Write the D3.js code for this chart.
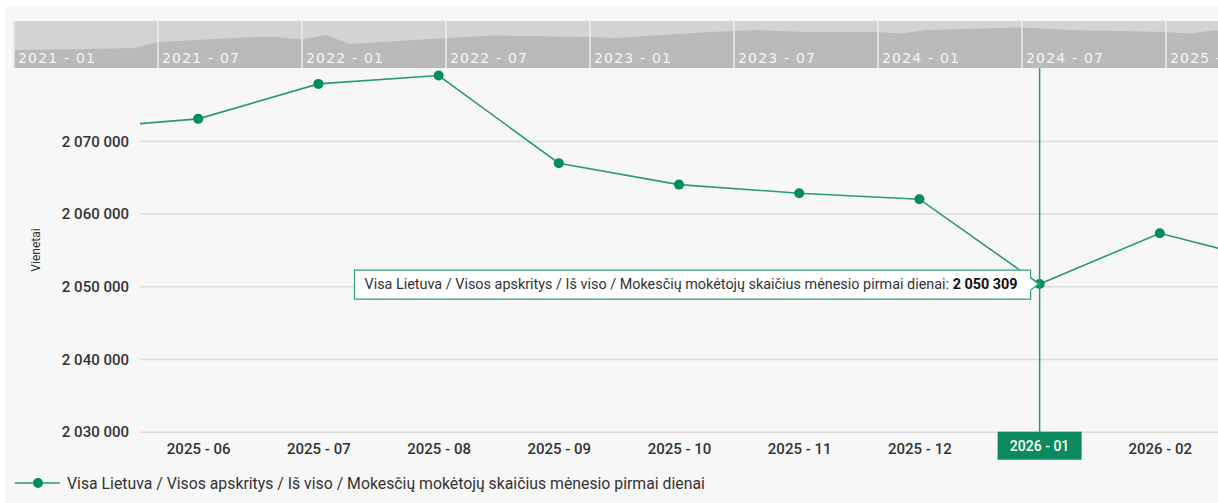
<!DOCTYPE html>
<html>
<head>
<meta charset="utf-8">
<script src="https://cdn.jsdelivr.net/npm/d3@7/dist/d3.min.js"></script>
<style>
  html, body { margin: 0; padding: 0; background: #ffffff; }
  svg { display: block; font-family: Roboto, "Noto Sans", sans-serif; }
</style>
</head>
<body>
<svg id="chart" width="1218" height="503"></svg>
<script>
// Monthly number of taxpayers on the first day of the month
const months = ["2025 - 05", "2025 - 06", "2025 - 07", "2025 - 08", "2025 - 09", "2025 - 10",
                "2025 - 11", "2025 - 12", "2026 - 01", "2026 - 02", "2026 - 03"];
const values = [2071690, 2073030, 2077840, 2078990, 2066930, 2063990,
                2062800, 2061980, 2050309, 2057300, 2053050];
const yTicks = [2030000, 2040000, 2050000, 2060000, 2070000];
const seriesName = "Visa Lietuva / Visos apskritys / Iš viso / Mokesčių mokėtojų skaičius mėnesio pirmai dienai";
const yTitle = "Vienetai";
const activeMonth = "2026 - 01";

// Overview strip (full history)
const navMonths = ["2021-01", "2021-04", "2021-06", "2021-07", "2021-11", "2021-12", "2022-01", "2022-02",
                   "2022-03", "2022-07", "2022-09", "2023-01", "2023-02", "2023-06", "2023-08", "2023-10",
                   "2024-01", "2024-02", "2024-03", "2024-07", "2024-09", "2025-01", "2025-02", "2025-03", "2025-04"];
const navValues = [1941900, 1947000, 1952100, 1982800, 2008300, 2008300, 1995500, 2018500,
                   1972600, 2003200, 2016000, 2008300, 2003200, 2033800, 2044000, 2033800,
                   2033800, 2026200, 2044000, 2056800, 2044000, 2033800, 2026200, 2041500, 2044000];
const navTickLabels = ["2021 - 01", "2021 - 07", "2022 - 01", "2022 - 07", "2023 - 01",
                       "2023 - 07", "2024 - 01", "2024 - 07", "2025 - 01"];

const GREEN = "#008c5e";
const LINE = "#2a9a70";

const svg = d3.select("#chart");
const W = 1218, H = 503;

const lt = d3.formatLocale({ decimal: ",", thousands: " ", grouping: [3], currency: ["", " €"] });
const fmt = lt.format(",d");

// page background
svg.append("rect").attr("x", 5).attr("y", 7).attr("width", W - 5).attr("height", H - 7).attr("fill", "#f7f7f7");

// ---------- main plot ----------
const plot = { left: 140, right: W, top: 68.2, bottom: 431.7 };

const x = d3.scalePoint().domain(months).range([78, 1280]).padding(0);
const y = d3.scaleLinear().domain([2030000, 2080000]).range([plot.bottom, plot.top]);

const defs = svg.append("defs");
defs.append("clipPath").attr("id", "plotClip")
  .append("rect").attr("x", plot.left).attr("y", plot.top - 8)
  .attr("width", plot.right - plot.left).attr("height", plot.bottom - plot.top + 16);

// grid + y labels
const yAxis = d3.axisLeft(y).tickValues(yTicks).tickFormat(fmt).tickSize(0).tickPadding(0);
const gy = svg.append("g").attr("transform", `translate(${plot.left},0)`).call(yAxis);
gy.attr("font-family", null).attr("font-size", null);
gy.select(".domain").remove();
gy.selectAll(".tick line").remove();
gy.selectAll(".tick").append("line")
  .attr("x1", 0).attr("x2", plot.right - plot.left)
  .attr("stroke", "#dcdcdc").attr("stroke-width", 1.5);
gy.selectAll(".tick text")
  .attr("x", -11).attr("dy", "0.35em")
  .attr("fill", "#333").style("font-size", "15px").style("font-weight", 500);

// y axis title
svg.append("text")
  .attr("transform", "translate(40,250) rotate(-90)")
  .attr("text-anchor", "middle").style("font-size", "12px").attr("fill", "#333")
  .text(yTitle);

// x labels (the highlighted month is shown in the crosshair label instead)
const xAxis = d3.axisBottom(x).tickValues(months.slice(1, 10).filter(m => m !== activeMonth))
  .tickSize(0).tickPadding(0);
const gx = svg.append("g").attr("transform", `translate(0,${plot.bottom})`).call(xAxis);
gx.attr("font-family", null).attr("font-size", null);
gx.select(".domain").remove();
gx.selectAll(".tick text")
  .attr("y", 22).attr("dy", 0)
  .attr("fill", "#333").style("font-size", "15px").style("font-weight", 500);

// series line + markers
const data = months.map((m, i) => ({ m, v: values[i] }));
const g = svg.append("g").attr("clip-path", "url(#plotClip)");
g.append("path").datum(data)
  .attr("fill", "none").attr("stroke", LINE).attr("stroke-width", 1.6)
  .attr("d", d3.line().x(d => x(d.m)).y(d => y(d.v)));

// crosshair for the highlighted month
const ax = x(activeMonth);
const active = data.find(d => d.m === activeMonth);
svg.append("line")
  .attr("x1", ax).attr("x2", ax).attr("y1", plot.top).attr("y2", plot.bottom)
  .attr("stroke", "#2a9a6e").attr("stroke-width", 1.5);

g.selectAll("circle").data(data).join("circle")
  .attr("cx", d => x(d.m)).attr("cy", d => y(d.v)).attr("r", 5)
  .attr("fill", GREEN);

// crosshair label on the x axis
const lab = svg.append("g");
lab.append("rect").attr("x", ax - 42).attr("y", plot.bottom).attr("width", 84).attr("height", 28)
  .attr("fill", "#0a8a5e");
lab.append("text").attr("x", ax).attr("y", plot.bottom + 19).attr("text-anchor", "middle")
  .attr("fill", "#ffffff").style("font-size", "14px").style("font-weight", 500)
  .text(activeMonth);

// tooltip
const tipY = y(active.v);
const tip = svg.append("g");
const tipPath = tip.append("path").attr("fill", "#ffffff").attr("stroke", "#35a077").attr("stroke-width", 1.2);
const tipText = tip.append("text").style("font-size", "14.4px").attr("fill", "#333")
  .attr("y", tipY + 5);
tipText.append("tspan").text(seriesName + ": ");
tipText.append("tspan").style("font-weight", 700).attr("fill", "#111").text(fmt(active.v));
const tipRight = ax - 9;
const textEnd = tipRight - 13;
const tw = tipText.node().getComputedTextLength();
tipText.attr("x", textEnd - tw);
const tipLeft = textEnd - tw - 10;
const tipTop = tipY - 14, tipBot = tipY + 15;
tipPath.attr("d", `M${tipLeft},${tipTop} H${tipRight} V${tipY - 6} L${ax - 1},${tipY} L${tipRight},${tipY + 6} V${tipBot} H${tipLeft} Z`);

// legend
const leg = svg.append("g").attr("transform", "translate(0,483)");
leg.append("line").attr("x1", 15).attr("x2", 60).attr("stroke", LINE).attr("stroke-width", 1.6);
leg.append("circle").attr("cx", 38).attr("r", 5).attr("fill", GREEN);
leg.append("text").attr("x", 67).attr("y", 5.5).style("font-size", "15.8px").attr("fill", "#333")
  .text(seriesName);

// ---------- overview strip ----------
const nav = { left: 13, right: W, top: 21, bottom: 68 };
const monthIndex = s => { const [yy, mm] = s.split("-").map(Number); return (yy - 2021) * 12 + (mm - 1); };
const nx = d3.scaleLinear().domain([0, 51]).range([14, 14 + 51 * 24]);
const ny = d3.scaleLinear().domain([1850000, 2090000]).range([nav.bottom, nav.top]);

defs.append("clipPath").attr("id", "navClip")
  .append("rect").attr("x", nav.left).attr("y", nav.top).attr("width", nav.right - nav.left).attr("height", nav.bottom - nav.top);

const ng = svg.append("g").attr("clip-path", "url(#navClip)");
ng.append("rect").attr("x", nav.left).attr("y", nav.top).attr("width", nav.right - nav.left)
  .attr("height", nav.bottom - nav.top).attr("fill", "#d3d3d3");
const navData = navMonths.map((m, i) => ({ i: monthIndex(m), v: navValues[i] }));
ng.append("path").datum(navData)
  .attr("fill", "#bababa")
  .attr("d", d3.area().x(d => nx(d.i)).y0(nav.bottom).y1(d => ny(d.v)));

const navTicks = navTickLabels.map((s, k) => ({ s, i: k * 6 }));
ng.selectAll("line.sep").data(navTicks).join("line").attr("class", "sep")
  .attr("x1", d => nx(d.i)).attr("x2", d => nx(d.i)).attr("y1", nav.top).attr("y2", nav.bottom)
  .attr("stroke", "#ececec").attr("stroke-width", 1.5);
ng.selectAll("text").data(navTicks).join("text")
  .attr("x", d => nx(d.i) + 4).attr("y", 63)
  .style("font-family", "'DejaVu Sans', Verdana, sans-serif").style("font-size", "14px")
  .style("letter-spacing", "1.2px").attr("fill", "#f4f4f4")
  .text(d => d.s);
</script>
</body>
</html>
